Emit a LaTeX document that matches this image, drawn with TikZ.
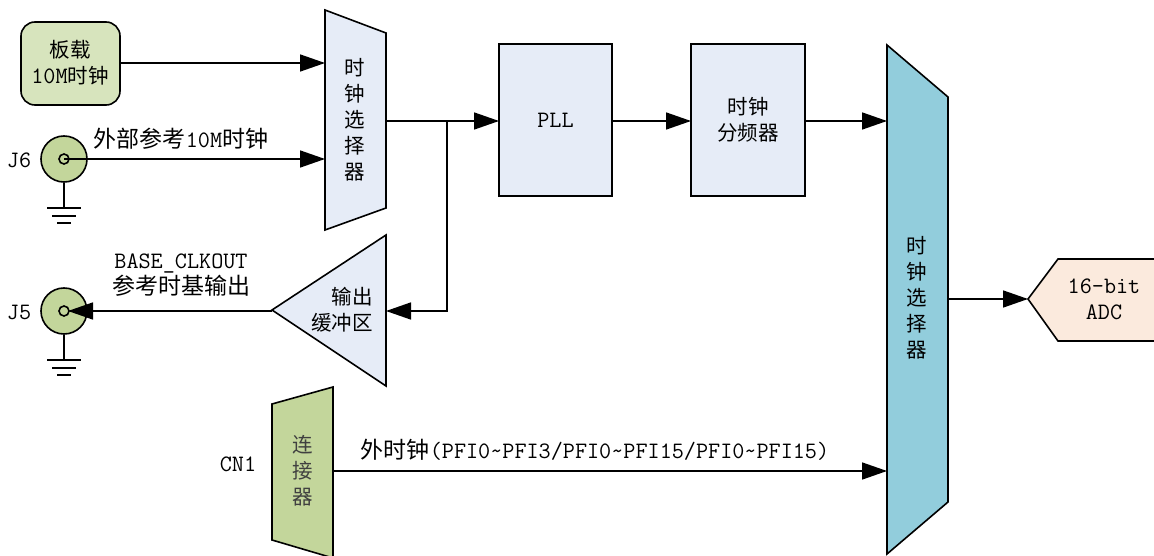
\documentclass[tikz,border=0pt]{standalone}
\usepackage{fontspec}
\setmainfont{Noto Sans CJK SC}
\newcommand{\lat}[1]{{\ttfamily\fontsize{23.5}{26}\selectfont #1}}
\usetikzlibrary{arrows.meta}
\definecolor{boxblue}{HTML}{E6ECF7}
\definecolor{boxgreen}{HTML}{D7E4BD}
\definecolor{portgreen}{HTML}{C3D69B}
\definecolor{muxcyan}{HTML}{92CDDC}
\definecolor{adcpeach}{HTML}{FBEADD}
\tikzset{
    sigline/.style={line width=1.6pt, -{Triangle[length=25pt,width=17pt]}},
    plainline/.style={line width=1.6pt},
    outline/.style={draw, line width=1.6pt, line join=miter},
    label/.style={font=\fontsize{23}{26}\selectfont, align=center, inner sep=0pt},
    blocklabel/.style={font=\fontsize{20.5}{26}\selectfont, align=center, inner sep=0pt},
    blockbox/.style={outline, fill=boxblue, minimum height=152pt, anchor=north west, inner sep=0pt, outer sep=0pt},
    bncring/.style={outline, circle, fill=portgreen, minimum size=46pt, inner sep=0pt},
    bncpin/.style={outline, circle, minimum size=10pt, inner sep=0pt}
}
\begin{document}
\begin{tikzpicture}[x=1pt, y=-1pt]
    \useasboundingbox (0,0) rectangle (1154,556);
    % draw blocks
    \node[outline, fill=boxgreen, rounded corners=14pt, minimum width=99pt, minimum height=83pt, inner sep=0pt, outer sep=0pt] (board) at (70.5,63.5) {};
    \node[blocklabel] (boardtext) at (70,63) {板载\\\lat{10M}时钟};
    \node[blockbox, minimum width=113pt] (pll) at (499,44) {\raisebox{-1pt}{\lat{PLL}}};
    \node[blockbox, minimum width=114pt, blocklabel] (divider) at (691,44) {时钟\\分频器};
    % draw selectors and buffer
    \draw[outline, fill=boxblue] (325,10) -- (386,33) -- (386,208) -- (325,230) -- cycle;
    \draw[outline, fill=boxblue] (272,310) -- (386,235) -- (386,386) -- cycle;
    \draw[outline, fill=portgreen] (272,404) -- (333,387) -- (333,558) -- (272,540) -- cycle;
    \draw[outline, fill=muxcyan] (887,45) -- (948,97) -- (948,502) -- (887,554) -- cycle;
    \draw[outline, fill=adcpeach] (1028,299) -- (1058,259) -- (1156,259) -- (1156,341) -- (1058,341) -- cycle;
    \node[blocklabel] (seltext) at (355,120) {时\\钟\\选\\择\\器};
    \node[blocklabel, align=right] (buftext) at (373,310) [anchor=east] {输出\\缓冲区};
    \node[blocklabel, text=black!75] (cntext) at (303,471) {连\\接\\器};
    \node[blocklabel] (muxtext) at (917,298) {时\\钟\\选\\择\\器};
    \node[label] (adctext) at (1104,299) {\lat{16-bit}\\\lat{ADC}};
    % ports on the blocks
    \coordinate (selin1) at (325,63);
    \coordinate (selin2) at (325,159);
    \coordinate (selout) at (386,121);
    \coordinate (split) at (447,121);
    \coordinate (bufcorner) at (447,311);
    \coordinate (bufin) at (386,311);
    \coordinate (bufout) at (272,311);
    \coordinate (cnout) at (333,471);
    \coordinate (muxin1) at (887,121);
    \coordinate (muxin2) at (887,471);
    \coordinate (muxout) at (948,299);
    \coordinate (adcin) at (1028,299);
    \coordinate (J5tip) at (68,311);
    % draw connectors with ground
    \foreach \name/\ypos in {J6/159,J5/311}{
        \node[bncring] (\name) at (64,\ypos) {};
        \node[bncpin] (\name pin) at (64,\ypos) {};
        \node[label] (\name text) at (19,\ypos+1) {\lat{\name}};
        \coordinate (\name gnd) at (64,\ypos+49);
        \draw[plainline] (\name.south) -- (\name gnd);
        \draw[plainline] ([xshift=-17pt]\name gnd) -- ([xshift=17pt]\name gnd);
        \draw[plainline] ([xshift=-12pt,yshift=-8pt]\name gnd) -- ([xshift=12pt,yshift=-8pt]\name gnd);
        \draw[plainline] ([xshift=-7pt,yshift=-15pt]\name gnd) -- ([xshift=7pt,yshift=-15pt]\name gnd);
    }
    % draw signals
    \draw[sigline] (board.east |- selin1) -- (selin1);
    \draw[sigline] (J6pin.center) -- (selin2);
    \draw[sigline] (selout) -- (pll.west |- selout);
    \draw[sigline] (pll.east |- selout) -- (divider.west |- selout);
    \draw[sigline] (divider.east |- selout) -- (muxin1);
    \draw[sigline] (split) -- (bufcorner) -- (bufin);
    \draw[sigline] (bufout) -- (J5tip);
    \draw[sigline] (cnout) -- (muxin2);
    \draw[sigline] (muxout) -- (adcin);
    % signal names
    \node[label] (extname) at (181,139) {外部参考\lat{10M}时钟};
    \node[label] (basename) at (181,275) {\lat{BASE\_CLKOUT}\\参考时基输出};
    \node[label] (cnname) at (238,464) {\lat{CN1}};
    \node[label] (pfiname) at (595,450) {外时钟\lat{(PFI0\textasciitilde PFI3/PFI0\textasciitilde PFI15/PFI0\textasciitilde PFI15)}};
\end{tikzpicture}
\end{document}
